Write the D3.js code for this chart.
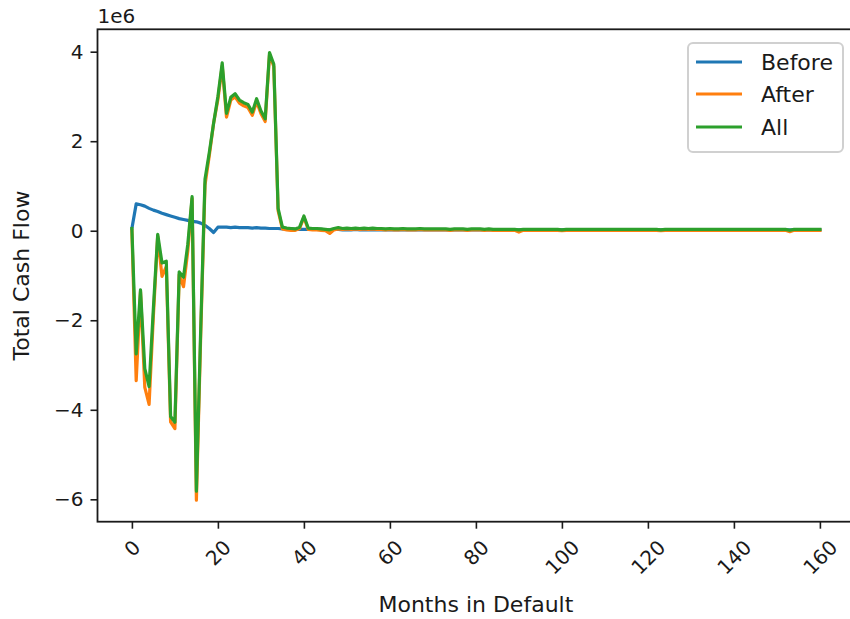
<!DOCTYPE html>
<html>
<head>
<meta charset="utf-8">
<script src="https://cdn.jsdelivr.net/npm/d3@7"></script>
<style>
  body { margin: 0; background: #fff; }
  text { font-family: "DejaVu Sans", sans-serif; fill: #1a1a1a; }
</style>
</head>
<body>
<div id="chart"></div>
<script>
// months in default, 0 .. 160
const months = d3.range(0, 161);

// values in units of 1e6
const before = [
    0.05, 0.60, 0.58, 0.55, 0.50, 0.46, 0.43, 0.39, 0.36, 0.33,
    0.30, 0.27, 0.25, 0.23, 0.21, 0.20, 0.17, 0.12, 0.05, -0.04,
    0.08, 0.08, 0.08, 0.07, 0.08, 0.07, 0.07, 0.07, 0.06, 0.07,
    0.06, 0.06, 0.05, 0.05, 0.05, 0.04, 0.04, 0.04, 0.03, 0.03,
    0.03, 0.03, 0.03, 0.03, 0.03, 0.02, 0.02, 0.03, 0.03, 0.02,
    0.02, 0.02, 0.03, 0.02, 0.02, 0.02, 0.02, 0.02, 0.02, 0.02,
    0.02, 0.02, 0.02, 0.02, 0.02, 0.02, 0.02, 0.02, 0.02, 0.02,
    0.02, 0.02, 0.02, 0.02, 0.02, 0.02, 0.02, 0.02, 0.02, 0.02,
    0.02, 0.02, 0.02, 0.02, 0.02, 0.02, 0.02, 0.02, 0.02, 0.02,
    0.02, 0.02, 0.02, 0.02, 0.02, 0.02, 0.02, 0.02, 0.02, 0.02,
    0.02, 0.02, 0.02, 0.02, 0.02, 0.02, 0.02, 0.02, 0.02, 0.02,
    0.02, 0.02, 0.02, 0.02, 0.02, 0.02, 0.02, 0.02, 0.02, 0.02,
    0.02, 0.02, 0.02, 0.02, 0.02, 0.02, 0.02, 0.02, 0.02, 0.02,
    0.02, 0.02, 0.02, 0.02, 0.02, 0.02, 0.02, 0.02, 0.02, 0.02,
    0.02, 0.02, 0.02, 0.02, 0.02, 0.02, 0.02, 0.02, 0.02, 0.02,
    0.02, 0.02, 0.02, 0.02, 0.02, 0.02, 0.02, 0.02, 0.02, 0.02,
    0.02
];

const after = [
    0.00, -3.35, -1.36, -3.50, -3.88, -1.90, -0.12, -1.02, -0.80, -4.27,
    -4.42, -0.98, -1.25, -0.45, 0.72, -6.02, -2.35, 1.02, 1.68, 2.40,
    2.93, 3.68, 2.54, 2.92, 2.99, 2.85, 2.79, 2.75, 2.58, 2.88,
    2.62, 2.44, 3.93, 3.67, 0.45, 0.04, 0.02, 0.01, 0.01, 0.05,
    0.30, 0.03, 0.02, 0.02, 0.01, 0.00, -0.06, 0.02, 0.04, 0.03,
    0.04, 0.03, 0.04, 0.03, 0.04, 0.03, 0.04, 0.03, 0.03, 0.02,
    0.03, 0.02, 0.02, 0.03, 0.02, 0.02, 0.02, 0.03, 0.02, 0.02,
    0.02, 0.02, 0.02, 0.02, 0.01, 0.02, 0.02, 0.02, 0.01, 0.02,
    0.02, 0.02, 0.01, 0.02, 0.01, 0.01, 0.01, 0.01, 0.01, 0.01,
    -0.03, 0.01, 0.01, 0.01, 0.01, 0.01, 0.01, 0.01, 0.01, 0.01,
    0.00, 0.01, 0.01, 0.01, 0.01, 0.01, 0.01, 0.01, 0.01, 0.01,
    0.01, 0.01, 0.01, 0.01, 0.01, 0.01, 0.01, 0.01, 0.01, 0.01,
    0.01, 0.01, 0.01, 0.00, 0.01, 0.01, 0.01, 0.01, 0.01, 0.01,
    0.01, 0.01, 0.01, 0.01, 0.01, 0.01, 0.01, 0.01, 0.01, 0.01,
    0.01, 0.01, 0.01, 0.01, 0.01, 0.01, 0.01, 0.01, 0.01, 0.01,
    0.01, 0.01, 0.01, -0.02, 0.01, 0.01, 0.01, 0.01, 0.01, 0.01,
    0.01
];

const all = [
    0.05, -2.75, -1.32, -3.08, -3.48, -1.72, -0.08, -0.72, -0.68, -4.15,
    -4.28, -0.92, -1.04, -0.30, 0.76, -5.82, -2.20, 1.15, 1.75, 2.40,
    3.00, 3.75, 2.62, 2.98, 3.06, 2.92, 2.86, 2.82, 2.65, 2.95,
    2.68, 2.50, 3.98, 3.72, 0.50, 0.08, 0.06, 0.05, 0.04, 0.08,
    0.33, 0.06, 0.05, 0.05, 0.04, 0.03, 0.02, 0.05, 0.07, 0.05,
    0.06, 0.05, 0.06, 0.05, 0.06, 0.05, 0.06, 0.05, 0.05, 0.04,
    0.05, 0.04, 0.04, 0.05, 0.04, 0.04, 0.04, 0.05, 0.04, 0.04,
    0.04, 0.04, 0.04, 0.04, 0.03, 0.04, 0.04, 0.04, 0.03, 0.04,
    0.04, 0.04, 0.03, 0.04, 0.03, 0.03, 0.03, 0.03, 0.03, 0.03,
    0.02, 0.03, 0.03, 0.03, 0.03, 0.03, 0.03, 0.03, 0.03, 0.03,
    0.02, 0.03, 0.03, 0.03, 0.03, 0.03, 0.03, 0.03, 0.03, 0.03,
    0.03, 0.03, 0.03, 0.03, 0.03, 0.03, 0.03, 0.03, 0.03, 0.03,
    0.03, 0.03, 0.03, 0.02, 0.03, 0.03, 0.03, 0.03, 0.03, 0.03,
    0.03, 0.03, 0.03, 0.03, 0.03, 0.03, 0.03, 0.03, 0.03, 0.03,
    0.03, 0.03, 0.03, 0.03, 0.03, 0.03, 0.03, 0.03, 0.03, 0.03,
    0.03, 0.03, 0.03, 0.01, 0.03, 0.03, 0.03, 0.03, 0.03, 0.03,
    0.03
];

const seriesNames = ["Before", "After", "All"];
const seriesColors = ["#1f77b4", "#ff7f0e", "#2ca02c"];
const xTicks = [0, 20, 40, 60, 80, 100, 120, 140, 160];
const yTicks = [-6, -4, -2, 0, 2, 4];

const width = 850, height = 619;
const margin = { left: 97.5, top: 29.3, right: 854.3, bottom: 521.7 };
const tickFont = 20;   // tick labels + offset text
const labelFont = 22;  // axis labels + legend

const svg = d3.select("#chart")
    .append("svg")
    .attr("width", width)
    .attr("height", height)
    .style("display", "block");

// axes limits include matplotlib's 5% margin
const x = d3.scaleLinear().domain([-8, 168]).range([margin.left, margin.right]);
const y = d3.scaleLinear().domain([-6.5, 4.5]).range([margin.bottom, margin.top]);

// lines
const line = d3.line()
    .x((d, i) => x(months[i]))
    .y(d => y(d));

[before, after, all].forEach((vals, i) => {
    svg.append("path")
        .datum(vals)
        .attr("fill", "none")
        .attr("stroke", seriesColors[i])
        .attr("stroke-width", 3.2)
        .attr("stroke-linejoin", "round")
        .attr("stroke-linecap", "square")
        .attr("d", line);
});

// x axis
const xAxis = svg.append("g")
    .attr("transform", `translate(0, ${margin.bottom})`)
    .call(d3.axisBottom(x).tickValues(xTicks).tickSize(7).tickPadding(7));
xAxis.select(".domain").remove();
xAxis.selectAll(".tick line").attr("stroke", "#1a1a1a").attr("stroke-width", 1.6);
xAxis.selectAll(".tick text")
    .style("font-size", tickFont + "px")
    .attr("fill", "#1a1a1a")
    .attr("text-anchor", "middle")
    .attr("dy", "0.35em")
    .each(function () {
        const w = this.getComputedTextLength();
        const h = tickFont * 1.16;
        const cy = 14 + (w + h) * Math.SQRT1_2 / 2;
        d3.select(this)
            .attr("y", null)
            .attr("transform", `translate(0, ${cy}) rotate(-45)`);
    });

// y axis
const yAxis = svg.append("g")
    .attr("transform", `translate(${margin.left}, 0)`)
    .call(d3.axisLeft(y).tickValues(yTicks).tickSize(7).tickPadding(7)
        .tickFormat(d => d < 0 ? "\u2212" + Math.abs(d) : String(d)));
yAxis.select(".domain").remove();
yAxis.selectAll(".tick line").attr("stroke", "#1a1a1a").attr("stroke-width", 1.6);
yAxis.selectAll(".tick text")
    .style("font-size", tickFont + "px")
    .attr("fill", "#1a1a1a");

// spines
svg.append("rect")
    .attr("x", margin.left)
    .attr("y", margin.top)
    .attr("width", margin.right - margin.left)
    .attr("height", margin.bottom - margin.top)
    .attr("fill", "none")
    .attr("stroke", "#1a1a1a")
    .attr("stroke-width", 1.8);

// offset text
svg.append("text")
    .attr("x", margin.left)
    .attr("y", 23)
    .style("font-size", tickFont + "px")
    .text("1e6");

// axis labels
svg.append("text")
    .attr("x", (margin.left + margin.right) / 2)
    .attr("y", 612)
    .attr("text-anchor", "middle")
    .style("font-size", labelFont + "px")
    .text("Months in Default");

svg.append("text")
    .attr("transform", `translate(29, ${(margin.top + margin.bottom) / 2}) rotate(-90)`)
    .attr("text-anchor", "middle")
    .style("font-size", labelFont + "px")
    .text("Total Cash Flow");

// legend
const legend = svg.append("g");
legend.append("rect")
    .attr("x", 688)
    .attr("y", 43)
    .attr("width", 155)
    .attr("height", 109)
    .attr("rx", 5)
    .attr("fill", "#fff")
    .attr("fill-opacity", 0.8)
    .attr("stroke", "#d0d0d0")
    .attr("stroke-width", 2);

const legendRows = [62, 94, 127];
seriesNames.forEach((name, i) => {
    legend.append("line")
        .attr("x1", 696).attr("x2", 742)
        .attr("y1", legendRows[i]).attr("y2", legendRows[i])
        .attr("stroke", seriesColors[i])
        .attr("stroke-width", 3.2);
    legend.append("text")
        .attr("x", 761)
        .attr("y", legendRows[i])
        .attr("dy", "0.35em")
        .style("font-size", labelFont + "px")
        .text(name);
});
</script>
</body>
</html>
